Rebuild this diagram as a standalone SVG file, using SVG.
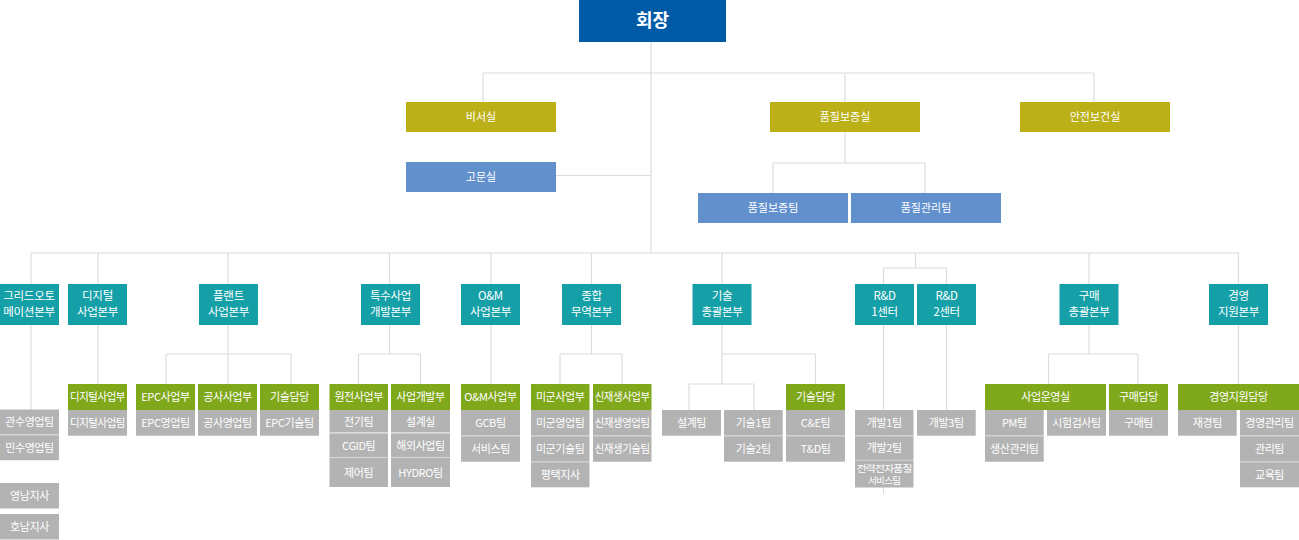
<svg xmlns="http://www.w3.org/2000/svg" width="1299" height="540" viewBox="0 0 1299 540">
<style>
text{font-family:"Noto Sans CJK KR","Noto Sans",sans-serif;fill:#fff;text-anchor:middle}
.top{fill:#005ba6}.ol{fill:#bbb018}.bl{fill:#6190cd}.tl{fill:#15a0a8}.gr{fill:#80a81b}.gy{fill:#b3b3b3}
.t0{font-size:18px;font-weight:bold}
.t1{font-size:11px}
.t2{font-size:11.5px;letter-spacing:-0.3px}
.t3{font-size:11px;letter-spacing:-0.4px}
.ts{font-size:9.5px;letter-spacing:-0.6px}
.sep{stroke:#d6d6d6;stroke-width:1}
#connectors path{fill:none;stroke:#dcdcdc;stroke-width:1.2}
</style>
<rect width="1299" height="540" fill="#fff"/>
<g id="connectors">
<path d="M651,42V253M483,73H1094M483,73V102M845,73V102M1094,73V102M556,175.5H651"/>
<path d="M845,132V163M773,163H925M773,163V193M925,163V193"/>
<path d="M31,253H1239M31,253V410M98,253V384M228,253V384M166,354H291M166,354V384M291,354V384"/>
<path d="M389.5,253V354M358.5,354H420.5M358.5,354V384M420.5,354V384M491,253V384"/>
<path d="M591.5,253V354M560,354H622M560,354V384M622,354V384"/>
<path d="M722,253V384M722,354H815.5M815.5,354V384M689,384H754M689,384V410M754,384V410"/>
<path d="M915.5,253V268M883.5,268H946.5M883.5,268V494M946.5,268V410"/>
<path d="M1089,253V354M1048.5,354H1138M1048.5,354V384M1138,354V384M1238.5,253V384"/>
</g>
<g id="n-chairman"><rect class="top" x="579" y="0" width="147" height="42"/><text class="t0" x="652.5" y="27">회장</text></g>
<g id="n-secretary"><rect class="ol" x="406" y="102" width="150" height="30"/><text class="t1" x="481" y="121">비서실</text></g>
<g id="n-advisor"><rect class="bl" x="406" y="162" width="150" height="30"/><text class="t1" x="481" y="181">고문실</text></g>
<g id="n-qa"><rect class="ol" x="770" y="102" width="150" height="30"/><text class="t1" x="845" y="121">품질보증실</text></g>
<g id="n-safety"><rect class="ol" x="1020" y="102" width="150" height="30"/><text class="t1" x="1095" y="121">안전보건실</text></g>
<g id="n-qateam"><rect class="bl" x="698" y="193" width="150" height="30"/><text class="t1" x="773" y="212">품질보증팀</text></g>
<g id="n-qcteam"><rect class="bl" x="851" y="193" width="150" height="30"/><text class="t1" x="926" y="212">품질관리팀</text></g>

<g id="n-grid"><rect class="tl" x="0" y="284" width="59" height="41"/><text class="t2" x="29" y="300">그리드오토</text><text class="t2" x="29" y="316">메이션본부</text></g>
<g id="n-digital"><rect class="tl" x="68" y="284" width="59" height="41"/><text class="t2" x="97.5" y="300">디지털</text><text class="t2" x="97.5" y="316">사업본부</text></g>
<g id="n-plant"><rect class="tl" x="199" y="284" width="59" height="41"/><text class="t2" x="228.5" y="300">플랜트</text><text class="t2" x="228.5" y="316">사업본부</text></g>
<g id="n-special"><rect class="tl" x="361" y="284" width="59" height="41"/><text class="t2" x="390.5" y="300">특수사업</text><text class="t2" x="390.5" y="316">개발본부</text></g>
<g id="n-om"><rect class="tl" x="461" y="284" width="59" height="41"/><text class="t2" x="490.5" y="300">O&amp;M</text><text class="t2" x="490.5" y="316">사업본부</text></g>
<g id="n-trade"><rect class="tl" x="562" y="284" width="59" height="41"/><text class="t2" x="591.5" y="300">종합</text><text class="t2" x="591.5" y="316">무역본부</text></g>
<g id="n-tech"><rect class="tl" x="692.5" y="284" width="59" height="41"/><text class="t2" x="722" y="300">기술</text><text class="t2" x="722" y="316">총괄본부</text></g>
<g id="n-rd1"><rect class="tl" x="855" y="284" width="59" height="41"/><text class="t2" x="884.5" y="300">R&amp;D</text><text class="t2" x="884.5" y="316">1센터</text></g>
<g id="n-rd2"><rect class="tl" x="917" y="284" width="59" height="41"/><text class="t2" x="946.5" y="300">R&amp;D</text><text class="t2" x="946.5" y="316">2센터</text></g>
<g id="n-purchase"><rect class="tl" x="1059.5" y="284" width="59" height="41"/><text class="t2" x="1089" y="300">구매</text><text class="t2" x="1089" y="316">총괄본부</text></g>
<g id="n-mgmt"><rect class="tl" x="1209" y="284" width="59" height="41"/><text class="t2" x="1238.5" y="300">경영</text><text class="t2" x="1238.5" y="316">지원본부</text></g>

<g id="n-grid-teams">
<rect class="gy" x="0" y="409.5" width="59" height="25"/><text class="t3" x="29.5" y="426">관수영업팀</text>
<line class="sep" x1="0" y1="434.7" x2="59" y2="434.7"/>
<rect class="gy" x="0" y="435.2" width="59" height="25"/><text class="t3" x="29.5" y="452">민수영업팀</text>
</g>
<g id="n-yeongnam"><rect class="gy" x="0" y="483" width="59" height="25.5"/><text class="t3" x="29.5" y="500">영남지사</text></g>
<g id="n-honam"><rect class="gy" x="0" y="514" width="59" height="25.5"/><text class="t3" x="29.5" y="531">호남지사</text></g>

<g id="n-digital-div">
<rect class="gr" x="68" y="384" width="59" height="26"/><text class="t3" x="97.5" y="401" textLength="55" lengthAdjust="spacingAndGlyphs">디지털사업부</text>
<rect class="gy" x="68" y="410" width="59" height="25.7"/><text class="t3" x="97.5" y="427" textLength="55" lengthAdjust="spacingAndGlyphs">디지털사업팀</text>
</g>
<g id="n-epc">
<rect class="gr" x="136" y="384" width="59" height="26"/><text class="t3" x="165.5" y="401">EPC사업부</text>
<rect class="gy" x="136" y="410" width="59" height="25.7"/><text class="t3" x="165.5" y="427">EPC영업팀</text>
</g>
<g id="n-construct">
<rect class="gr" x="198" y="384" width="59" height="26"/><text class="t3" x="227.5" y="401">공사사업부</text>
<rect class="gy" x="198" y="410" width="59" height="25.7"/><text class="t3" x="227.5" y="427">공사영업팀</text>
</g>
<g id="n-plant-tech">
<rect class="gr" x="260" y="384" width="59" height="26"/><text class="t3" x="289.5" y="401">기술담당</text>
<rect class="gy" x="260" y="410" width="59" height="25.7"/><text class="t3" x="289.5" y="427">EPC기술팀</text>
</g>
<g id="n-nuclear">
<rect class="gr" x="329.5" y="384" width="58.5" height="26"/><text class="t3" x="358.7" y="401">원전사업부</text>
<rect class="gy" x="329.5" y="410" width="58.5" height="22.5"/><text class="t3" x="358.7" y="426">전기팀</text>
<line class="sep" x1="329.5" y1="433" x2="388" y2="433"/>
<rect class="gy" x="329.5" y="433.5" width="58.5" height="24"/><text class="t3" x="358.7" y="449.5">CGID팀</text>
<line class="sep" x1="329.5" y1="457.8" x2="388" y2="457.8"/>
<rect class="gy" x="329.5" y="458" width="58.5" height="29"/><text class="t3" x="358.7" y="477">제어팀</text>
</g>
<g id="n-devbiz">
<rect class="gr" x="391" y="384" width="59" height="26"/><text class="t3" x="420.5" y="401">사업개발부</text>
<rect class="gy" x="391" y="410" width="59" height="22.5"/><text class="t3" x="420.5" y="426">설계실</text>
<line class="sep" x1="391" y1="433" x2="450" y2="433"/>
<rect class="gy" x="391" y="433.5" width="59" height="24"/><text class="t3" x="420.5" y="449.5">해외사업팀</text>
<line class="sep" x1="391" y1="457.8" x2="450" y2="457.8"/>
<rect class="gy" x="391" y="458" width="59" height="29"/><text class="t3" x="420.5" y="477">HYDRO팀</text>
</g>
<g id="n-om-div">
<rect class="gr" x="461" y="384" width="59" height="26"/><text class="t3" x="490.5" y="401">O&amp;M사업부</text>
<rect class="gy" x="461" y="410" width="59" height="25.7"/><text class="t3" x="490.5" y="427">GCB팀</text>
<line class="sep" x1="461" y1="436" x2="520" y2="436"/>
<rect class="gy" x="461" y="436.3" width="59" height="25.4"/><text class="t3" x="490.5" y="453">서비스팀</text>
</g>
<g id="n-usfk">
<rect class="gr" x="531" y="384" width="58.5" height="26"/><text class="t3" x="560.2" y="401">미군사업부</text>
<rect class="gy" x="531" y="410" width="58.5" height="25.7"/><text class="t3" x="560.2" y="427">미군영업팀</text>
<line class="sep" x1="531" y1="436" x2="589.5" y2="436"/>
<rect class="gy" x="531" y="436.3" width="58.5" height="25.4"/><text class="t3" x="560.2" y="453">미군기술팀</text>
<line class="sep" x1="531" y1="462" x2="589.5" y2="462"/>
<rect class="gy" x="531" y="462.3" width="58.5" height="25"/><text class="t3" x="560.2" y="479">평택지사</text>
</g>
<g id="n-renew">
<rect class="gr" x="593" y="384" width="58.5" height="26"/><text class="t3" x="622.2" y="401" textLength="55" lengthAdjust="spacingAndGlyphs">신재생사업부</text>
<rect class="gy" x="593" y="410" width="58.5" height="25.7"/><text class="t3" x="622.2" y="427" textLength="55" lengthAdjust="spacingAndGlyphs">신재생영업팀</text>
<line class="sep" x1="593" y1="436" x2="651.5" y2="436"/>
<rect class="gy" x="593" y="436.3" width="58.5" height="25.4"/><text class="t3" x="622.2" y="453" textLength="55" lengthAdjust="spacingAndGlyphs">신재생기술팀</text>
</g>
<g id="n-design"><rect class="gy" x="662" y="410" width="59" height="25.7"/><text class="t3" x="691.5" y="427">설계팀</text></g>
<g id="n-tech12">
<rect class="gy" x="724" y="410" width="58.7" height="25.7"/><text class="t3" x="753.3" y="427">기술1팀</text>
<line class="sep" x1="724" y1="436" x2="782.7" y2="436"/>
<rect class="gy" x="724" y="436.3" width="58.7" height="25.4"/><text class="t3" x="753.3" y="453">기술2팀</text>
</g>
<g id="n-tech-lead">
<rect class="gr" x="786" y="384" width="59" height="26"/><text class="t3" x="815.5" y="401">기술담당</text>
<rect class="gy" x="786" y="410" width="59" height="25.7"/><text class="t3" x="815.5" y="427">C&amp;E팀</text>
<line class="sep" x1="786" y1="436" x2="845" y2="436"/>
<rect class="gy" x="786" y="436.3" width="59" height="25.4"/><text class="t3" x="815.5" y="453">T&amp;D팀</text>
</g>
<g id="n-rd1-teams">
<rect class="gy" x="855" y="410" width="58.5" height="25.7"/><text class="t3" x="884.2" y="427">개발1팀</text>
<line class="sep" x1="855" y1="436" x2="913.5" y2="436"/>
<rect class="gy" x="855" y="436.3" width="58.5" height="23.7"/><text class="t3" x="884.2" y="452">개발2팀</text>
<line class="sep" x1="855" y1="460.2" x2="913.5" y2="460.2"/>
<rect class="gy" x="855" y="460.5" width="58.5" height="27"/><text class="ts" x="884.2" y="472" textLength="55" lengthAdjust="spacingAndGlyphs">전력전자품질</text><text class="ts" x="884.2" y="483.5">서비스팀</text>
</g>
<g id="n-rd2-teams"><rect class="gy" x="917" y="410" width="58.7" height="25.7"/><text class="t3" x="946.3" y="427">개발3팀</text></g>
<g id="n-bizop">
<rect class="gr" x="985" y="384" width="121" height="26"/><text class="t3" x="1045.5" y="401">사업운영실</text>
<rect class="gy" x="985" y="410" width="58.7" height="25.7"/><text class="t3" x="1014.3" y="427">PM팀</text>
<line class="sep" x1="985" y1="436" x2="1043.7" y2="436"/>
<rect class="gy" x="985" y="436.3" width="58.7" height="25.4"/><text class="t3" x="1014.3" y="453">생산관리팀</text>
<rect class="gy" x="1047" y="410" width="59" height="25.7"/><text class="t3" x="1076.5" y="427">시험검사팀</text>
</g>
<g id="n-purch-lead">
<rect class="gr" x="1109" y="384" width="59" height="26"/><text class="t3" x="1138.5" y="401">구매담당</text>
<rect class="gy" x="1109" y="410" width="59" height="25.7"/><text class="t3" x="1138.5" y="427">구매팀</text>
</g>
<g id="n-mgmt-lead">
<rect class="gr" x="1178" y="384" width="121" height="26"/><text class="t3" x="1238.5" y="401">경영지원담당</text>
<rect class="gy" x="1178" y="410" width="58.7" height="25.7"/><text class="t3" x="1207.3" y="427">재경팀</text>
<rect class="gy" x="1240" y="410" width="59" height="25.7"/><text class="t3" x="1269.5" y="427">경영관리팀</text>
<line class="sep" x1="1240" y1="436" x2="1299" y2="436"/>
<rect class="gy" x="1240" y="436.3" width="59" height="25.4"/><text class="t3" x="1269.5" y="453">관리팀</text>
<line class="sep" x1="1240" y1="462" x2="1299" y2="462"/>
<rect class="gy" x="1240" y="462.3" width="59" height="25"/><text class="t3" x="1269.5" y="479">교육팀</text>
</g>
</svg>
